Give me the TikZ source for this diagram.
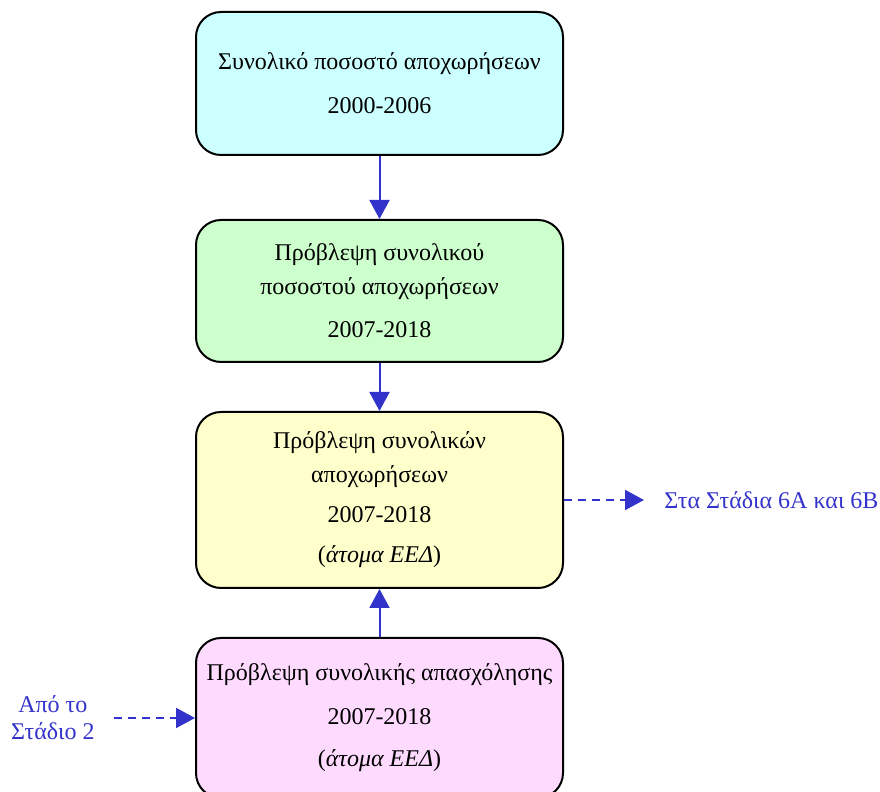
\documentclass[tikz,border=0pt]{standalone}
\usepackage{fontspec}
\setmainfont{Liberation Serif}
\usetikzlibrary{arrows.meta,positioning}
\definecolor{stBlue}{RGB}{51,51,204}
\definecolor{stCyan}{RGB}{204,255,255}
\definecolor{stGreen}{RGB}{204,255,204}
\definecolor{stYellow}{RGB}{255,255,204}
\definecolor{stPink}{RGB}{255,218,255}

\begin{document}
\begin{tikzpicture}[
    stagebox/.style={draw,line width=1pt,rounded corners=12.5pt,minimum width=183.5pt,align=center,
      font=\fontsize{12}{17}\selectfont,inner sep=2pt},
    flow/.style={-{Triangle[length=9.5pt,width=10pt]},line width=1pt,stBlue},
    extflow/.style={flow,dashed,dash pattern=on 4pt off 3pt},
    extlabel/.style={text=stBlue,font=\fontsize{12}{13.5}\selectfont,align=center,inner sep=0pt}
  ]
    \useasboundingbox (0,0) rectangle (440pt,396pt);
    \node[stagebox,fill=stCyan,minimum height=71.5pt] (rate) at (189.75pt,354.25pt)
      {Συνολικό ποσοστό αποχωρήσεων\\[5pt]2000-2006};
    \node[stagebox,fill=stGreen,minimum height=71pt,below=31.5pt of rate] (fcrate)
      {Πρόβλεψη συνολικού\\ποσοστού αποχωρήσεων\\[4.5pt]2007-2018};
    \node[stagebox,fill=stYellow,minimum height=88pt,below=24pt of fcrate] (fcout)
      {Πρόβλεψη συνολικών\\αποχωρήσεων\\[3pt]2007-2018\\[3pt](\textit{άτομα ΕΕΔ})};
    \node[stagebox,fill=stPink,minimum height=80pt,below=24pt of fcout] (fcemp)
      {Πρόβλεψη συνολικής απασχόλησης\\[5pt]2007-2018\\[4pt](\textit{άτομα ΕΕΔ})};
    \node[extlabel,anchor=west,right=50pt of fcout] (to6) {Στα Στάδια 6Α και 6Β};
    \node[extlabel,anchor=east,left=50pt of fcemp] (from2) {Από το\\Στάδιο 2};
    \draw[flow] (rate) -- (fcrate);
    \draw[flow] (fcrate) -- (fcout);
    \draw[flow] (fcemp) -- (fcout);
    \draw[extflow,shorten >=10pt] (fcout) -- (to6);
    \draw[extflow,shorten <=9.5pt] (from2) -- (fcemp);
  \end{tikzpicture}
\end{document}
